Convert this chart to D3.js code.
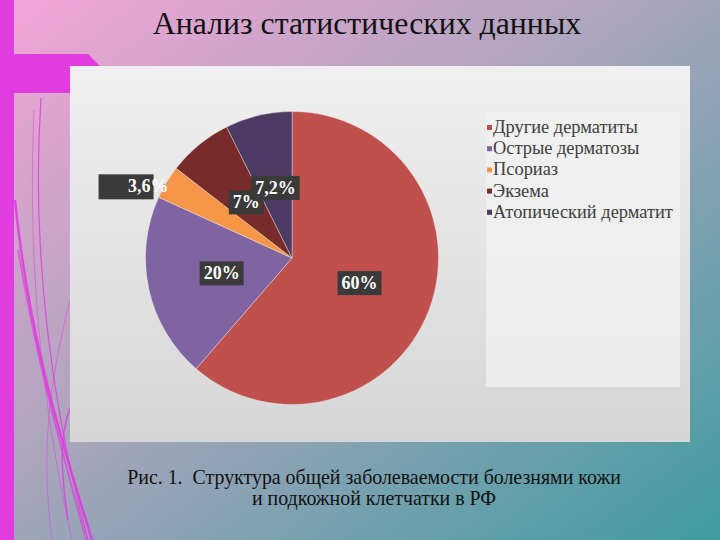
<!DOCTYPE html>
<html><head><meta charset="utf-8">
<script src="https://cdn.jsdelivr.net/npm/d3@7"></script>
<style>html,body{margin:0;padding:0;overflow:hidden;}svg{display:block;}</style>
</head><body>
<svg id="c" width="720" height="540"></svg>
<script>
const categories = ["Другие дерматиты","Острые дерматозы","Псориаз","Экзема","Атопический дерматит"];
const values = [60, 20, 3.6, 7, 7.2];
const valueLabels = ["60%","20%","3,6%","7%","7,2%"];
const colors = ["#C0504D","#8064A2","#F79646","#772C2A","#4B3A63"];
const title = "Анализ статистических данных";
const caption = ["Рис. 1.  Структура общей заболеваемости болезнями кожи","и подкожной клетчатки в РФ"];

const svg = d3.select("#c");
const defs = svg.append("defs");
const bg = defs.append("linearGradient").attr("id","bg").attr("x1","0").attr("y1","0").attr("x2","1").attr("y2","1");
bg.append("stop").attr("offset","0").attr("stop-color","#f4a4d8");
bg.append("stop").attr("offset","0.45").attr("stop-color","#aba5bd");
bg.append("stop").attr("offset","1").attr("stop-color","#3f9ca0");
const pg = defs.append("linearGradient").attr("id","panel").attr("x1","0").attr("y1","0").attr("x2","0").attr("y2","1");
pg.append("stop").attr("offset","0").attr("stop-color","#f0f0f0");
pg.append("stop").attr("offset","1").attr("stop-color","#d6d6d6");

svg.append("rect").attr("width",720).attr("height",540).attr("fill","url(#bg)");

// decorative curves
const curves = [
  {d:"M41,98 C30,260 55,420 88,540", w:1.2, o:0.85},
  {d:"M34,110 C26,300 50,440 72,540", w:1, o:0.5},
  {d:"M15,200 C30,350 68,460 92,540", w:2.5, o:0.9},
  {d:"M18,250 C40,380 68,470 86,540", w:1.8, o:0.7},
  {d:"M70,408 C58,440 62,480 68,520", w:1.5, o:0.8},
  {d:"M70,300 C50,380 40,450 52,540", w:1, o:0.5}
];
svg.selectAll("path.cv").data(curves).join("path").attr("class","cv")
  .attr("d",d=>d.d).attr("fill","none").attr("stroke","#e03ce0")
  .attr("stroke-width",d=>d.w).attr("opacity",d=>d.o);

svg.append("rect").attr("x",0).attr("y",0).attr("width",14).attr("height",540).attr("fill","#e03ce0");
svg.append("path").attr("d","M14,54 L88,54 L126,93 L14,93 Z").attr("fill","#e03ce0");

const font = "'Liberation Serif', 'Times New Roman', serif";
// title
svg.append("text").attr("x",367).attr("y",34).attr("text-anchor","middle")
  .attr("font-family",font).attr("font-size",31.8).attr("fill","#111").text(title);

// panel
svg.append("rect").attr("x",70).attr("y",66).attr("width",620).attr("height",376).attr("fill","url(#panel)");
svg.append("rect").attr("x",486).attr("y",112).attr("width",194).attr("height",275).attr("fill","#f1f1f1").attr("opacity",0.8);

// pie
const cx = 292, cy = 258, R = 146.5;
const pie = d3.pie().sort(null).value(d=>d)(values);
const arc = d3.arc().innerRadius(0).outerRadius(R);
const g = svg.append("g").attr("transform",`translate(${cx},${cy})`);
g.selectAll("path").data(pie).join("path").attr("d",arc)
  .attr("fill",(d,i)=>colors[i]).attr("stroke","#f0f0f0").attr("stroke-width",0.4);

const labelArc = d3.arc().innerRadius(144).outerRadius(0);
const outerArc = d3.arc().innerRadius(R).outerRadius(R);
pie.forEach((d,i)=>{
  let x, y;
  if (i === 2) {
    const [ox, oy] = outerArc.centroid(d);
    x = ox + 2; y = oy + 4;
    g.append("rect").attr("x",x-70).attr("y",y-12).attr("width",55).attr("height",25).attr("fill","#3a3a3a");
    g.append("line").attr("x1",ox+3).attr("y1",oy).attr("x2",x-6).attr("y2",y-1)
      .attr("stroke","#a6a6a6").attr("stroke-width",1);
    g.append("text").attr("x",x).attr("y",y+6).attr("text-anchor","end")
      .attr("font-family",font).attr("font-weight","bold").attr("font-size",18).attr("fill","#fff").text(valueLabels[i]);
    return;
  }
  [x, y] = labelArc.centroid(d);
  const t = g.append("text").attr("x",x).attr("y",y+6).attr("text-anchor","middle")
    .attr("font-family",font).attr("font-weight","bold").attr("font-size",18).attr("fill","#fff").text(valueLabels[i]);
  const bb = t.node().getBBox();
  g.insert("rect", () => t.node()).attr("x",bb.x-4).attr("y",y-12).attr("width",bb.width+8).attr("height",24).attr("fill","#3a3a3a");
});

// legend
const lg = svg.append("g").attr("transform","translate(487,128)");
const ly = d3.scaleBand().domain(categories).range([0,106]);
categories.forEach((c,i)=>{
  lg.append("rect").attr("x",0).attr("y",ly(c)-3).attr("width",5).attr("height",5).attr("fill",colors[i]);
  lg.append("text").attr("x",6).attr("y",ly(c)+5).attr("font-family",font).attr("font-size",18.4)
    .attr("fill","#404040").text(c);
});

// caption
caption.forEach((t,i)=>{
  svg.append("text").attr("x",374).attr("y",484+i*21).attr("text-anchor","middle")
    .attr("font-family",font).attr("font-size",19.9).attr("fill","#111")
    .style("white-space","pre").text(t);
});
</script>
</body></html>
